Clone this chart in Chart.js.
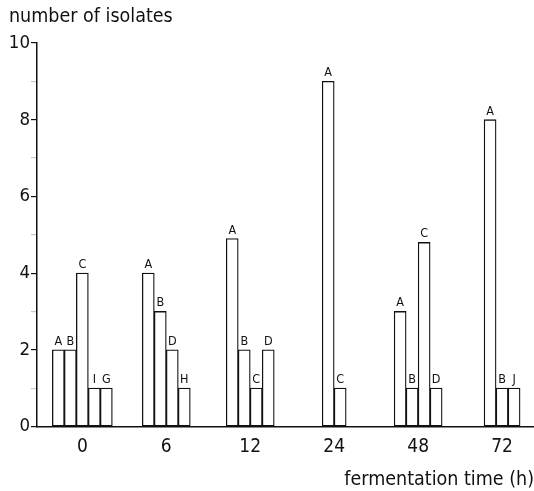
<!DOCTYPE html>
<html>
<head>
<meta charset="utf-8">
<title>isolates by fermentation time</title>
<script src="https://cdn.jsdelivr.net/npm/chart.js@4.4.1/dist/chart.umd.min.js"></script>
<style>
  html, body { margin: 0; padding: 0; background: #fff; }
  #wrap { width: 534px; height: 491px; }
</style>
</head>
<body>
<div id="wrap"><canvas id="isolates-chart"></canvas></div>
<script>
// fermentation time groups (h)
const hours = ['0', '6', '12', '24', '48', '72'];

// number of isolates per type, one entry per time group (null = not found)
const typeA = [2, 4, 4.9, 9, 3, 8];
const typeB = [2, 3, 2, null, 1, 1];
const typeC = [4, null, 1, 1, 4.8, null];
const typeD = [null, 2, 2, null, 1, null];
const typeI = [1, null, null, null, null, null];
const typeG = [1, null, null, null, null, null];
const typeH = [null, 1, null, null, null, null];
const typeJ = [null, null, null, null, null, 1];

const yTicks = [0, 2, 4, 6, 8, 10];

const FONT = "'Liberation Sans Narrow', 'DejaVu Sans Condensed', 'Liberation Sans', sans-serif";

const series = [
    ['A', typeA], ['B', typeB], ['C', typeC], ['D', typeD],
    ['I', typeI], ['G', typeG], ['H', typeH], ['J', typeJ]
];

const datasets = series.map(([name, values]) => ({
    label: name,
    data: values.map((v, i) => ({ x: i, y: v })),
    backgroundColor: '#fff',
    borderColor: '#111',
    borderWidth: 1.3,
    borderSkipped: false,
    barThickness: 12,
    skipNull: true
}));

// letter above every bar
const barLetters = {
    id: 'barLetters',
    afterDatasetsDraw(chart) {
        const ctx = chart.ctx;
        ctx.save();
        ctx.font = '12.5px ' + FONT;
        ctx.fillStyle = '#111';
        ctx.textAlign = 'center';
        ctx.textBaseline = 'bottom';
        chart.data.datasets.forEach((ds, di) => {
            const meta = chart.getDatasetMeta(di);
            meta.data.forEach((bar, i) => {
                if (ds.data[i].y === null) return;
                ctx.fillText(ds.label, bar.x, bar.y - 2);
            });
        });
        ctx.restore();
    }
};

const ctx = document.getElementById('isolates-chart');

new Chart(ctx, {
    type: 'bar',
    data: { datasets: datasets },
    plugins: [barLetters],
    options: {
        responsive: true,
        maintainAspectRatio: false,
        animation: false,
        layout: { padding: { left: 9, top: 0, right: 0, bottom: 0 } },
        plugins: {
            legend: { display: false },
            tooltip: { enabled: false },
            title: {
                display: true,
                text: 'number of isolates',
                align: 'start',
                color: '#111',
                font: { family: FONT, size: 19.5, weight: 'normal', lineHeight: 1 },
                padding: { top: 7.5, bottom: 16 }
            }
        },
        scales: {
            x: {
                type: 'linear',
                offset: false,
                min: -0.54,
                max: 5.38,
                afterBuildTicks: (scale) => {
                    scale.ticks = hours.map((h, i) => ({ value: i }));
                },
                ticks: {
                    color: '#111',
                    padding: 11.5,
                    font: { family: FONT, size: 19, lineHeight: 1 },
                    callback: (v) => hours[v]
                },
                grid: { display: false, drawTicks: false },
                border: { display: true, color: '#111', width: 1.5 },
                title: {
                    display: true,
                    text: 'fermentation time (h)',
                    align: 'end',
                    color: '#111',
                    font: { family: FONT, size: 19.5, lineHeight: 1 },
                    padding: { top: 1.5, bottom: 1.5 }
                }
            },
            y: {
                min: 0,
                max: 10,
                afterFit: (scale) => { scale.width = 28; },
                afterBuildTicks: (scale) => {
                    const all = [];
                    for (let v = 0; v <= 10; v++) all.push({ value: v });
                    scale.ticks = all;
                },
                ticks: {
                    color: '#111',
                    padding: 1,
                    font: { family: FONT, size: 18.5, lineHeight: 1 },
                    callback: (v) => yTicks.includes(v) ? String(v) : ''
                },
                grid: {
                    drawOnChartArea: false,
                    drawTicks: true,
                    tickLength: 6,
                    lineWidth: 1.2,
                    color: (c) => (c.tick && yTicks.includes(c.tick.value)) ? '#111' : '#c8c8c8'
                },
                border: { display: true, color: '#111', width: 1.5 }
            }
        }
    }
});
</script>
</body>
</html>
